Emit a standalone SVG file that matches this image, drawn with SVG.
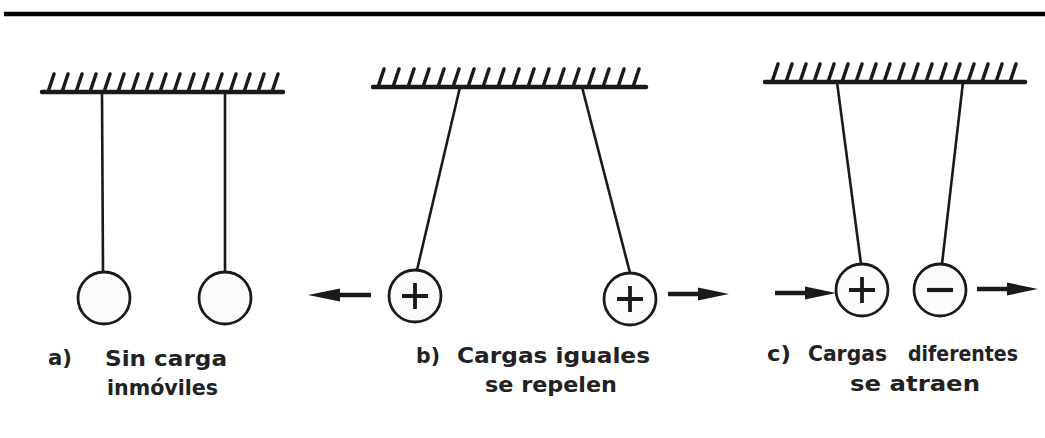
<svg xmlns="http://www.w3.org/2000/svg" width="1045" height="438" viewBox="0 0 1045 438">
<style>
.rule{stroke:#000;stroke-width:4.5;fill:none}
.base{stroke:#1a1a1a;stroke-width:4.5;fill:none;stroke-linecap:round}
.hatch{stroke:#1a1a1a;stroke-width:3.5;fill:none;stroke-linecap:round}
.str{stroke:#1a1a1a;stroke-width:2.6;fill:none}
.ball{stroke:#1a1a1a;stroke-width:2.8;fill:#fbfbfb}
.sign{stroke:#1a1a1a;stroke-width:3.8;fill:none}
.shaft{stroke:#1a1a1a;stroke-width:4.5;fill:none}
.head{fill:#1a1a1a}
.lbl{font-family:"DejaVu Sans",sans-serif;font-weight:bold;font-size:22px;fill:#222}
</style>
<rect width="1045" height="438" fill="#fff"/>
<line class="rule" x1="4" y1="14" x2="1045" y2="14"/>

<g id="ceiling-a">
<line class="base" x1="42" y1="92" x2="283" y2="92"/>
<path class="hatch" d="M48 92l6-18M62 92l6-18M76 92l6-18M90 92l6-18M104 92l6-18M118 92l6-18M132 92l6-18M146 92l6-18M160 92l6-18M174 92l6-18M188 92l6-18M202 92l6-18M216 92l6-18M230 92l6-18M244 92l6-18M258 92l6-18M272 92l6-18"/>
</g>
<g id="ceiling-b">
<line class="base" x1="373" y1="87" x2="646" y2="87"/>
<path class="hatch" d="M378 87l6-18M393 87l6-18M408 87l6-18M423 87l6-18M438 87l6-18M453 87l6-18M468 87l6-18M483 87l6-18M498 87l6-18M513 87l6-18M528 87l6-18M543 87l6-18M558 87l6-18M573 87l6-18M588 87l6-18M603 87l6-18M618 87l6-18M633 87l6-18"/>
</g>
<g id="ceiling-c">
<line class="base" x1="765" y1="82" x2="1025" y2="82"/>
<path class="hatch" d="M772 82l6-18M786 82l6-18M800 82l6-18M814 82l6-18M828 82l6-18M842 82l6-18M856 82l6-18M870 82l6-18M884 82l6-18M898 82l6-18M912 82l6-18M926 82l6-18M940 82l6-18M954 82l6-18M968 82l6-18M982 82l6-18M996 82l6-18M1010 82l6-18"/>
</g>

<g id="connectors">
<line class="str" x1="102" y1="92" x2="103" y2="272"/>
<line class="str" x1="225" y1="92" x2="225" y2="272"/>
<line class="str" x1="460" y1="87" x2="417" y2="270"/>
<line class="str" x1="582" y1="87" x2="630" y2="273"/>
<line class="str" x1="837" y1="82" x2="861" y2="264"/>
<line class="str" x1="963" y1="82" x2="942" y2="264"/>
<g id="arrow-b-left"><line class="shaft" x1="330" y1="295" x2="371" y2="295"/><path class="head" d="M308 295L340 288.5L340 301.5Z"/></g>
<g id="arrow-b-right"><line class="shaft" x1="668" y1="294" x2="708" y2="294"/><path class="head" d="M729 294L698 287.5L698 300.5Z"/></g>
<g id="arrow-c-left"><line class="shaft" x1="775" y1="293" x2="815" y2="293"/><path class="head" d="M836 293L805 286.5L805 299.5Z"/></g>
<g id="arrow-c-right"><line class="shaft" x1="977" y1="289" x2="1017" y2="289"/><path class="head" d="M1038 289L1007 282.5L1007 295.5Z"/></g>
</g>

<g id="ball-a1"><circle class="ball" cx="104" cy="298" r="26"/></g>
<g id="ball-a2"><circle class="ball" cx="225" cy="298" r="26"/></g>
<g id="ball-b1"><circle class="ball" cx="415" cy="296" r="26"/><path class="sign" d="M402 296h26M415 283v26"/></g>
<g id="ball-b2"><circle class="ball" cx="630" cy="299" r="26"/><path class="sign" d="M617 299h26M630 286v26"/></g>
<g id="ball-c1"><circle class="ball" cx="862" cy="290" r="26"/><path class="sign" d="M849 290h26M862 277v26"/></g>
<g id="ball-c2"><circle class="ball" cx="940" cy="290" r="26"/><path class="sign" d="M927 290h26" style="stroke-width:4.2"/></g>

<g id="label-a">
<text class="lbl" x="48" y="365" textLength="24" lengthAdjust="spacingAndGlyphs">a)</text>
<text class="lbl" x="105" y="366" textLength="122" lengthAdjust="spacingAndGlyphs">Sin  carga</text>
<text class="lbl" x="107" y="395" textLength="111" lengthAdjust="spacingAndGlyphs">inmóviles</text>
</g>
<g id="label-b">
<text class="lbl" x="416" y="363" textLength="24" lengthAdjust="spacingAndGlyphs">b)</text>
<text class="lbl" x="457" y="363" textLength="193" lengthAdjust="spacingAndGlyphs">Cargas  iguales</text>
<text class="lbl" x="485" y="392" textLength="132" lengthAdjust="spacingAndGlyphs">se  repelen</text>
</g>
<g id="label-c">
<text class="lbl" x="767" y="361" textLength="24" lengthAdjust="spacingAndGlyphs">c)</text>
<text class="lbl" x="808" y="361" textLength="79" lengthAdjust="spacingAndGlyphs">Cargas</text>
<text class="lbl" x="908" y="361" textLength="110" lengthAdjust="spacingAndGlyphs">diferentes</text>
<text class="lbl" x="850" y="391" textLength="130" lengthAdjust="spacingAndGlyphs">se  atraen</text>
</g>
</svg>
